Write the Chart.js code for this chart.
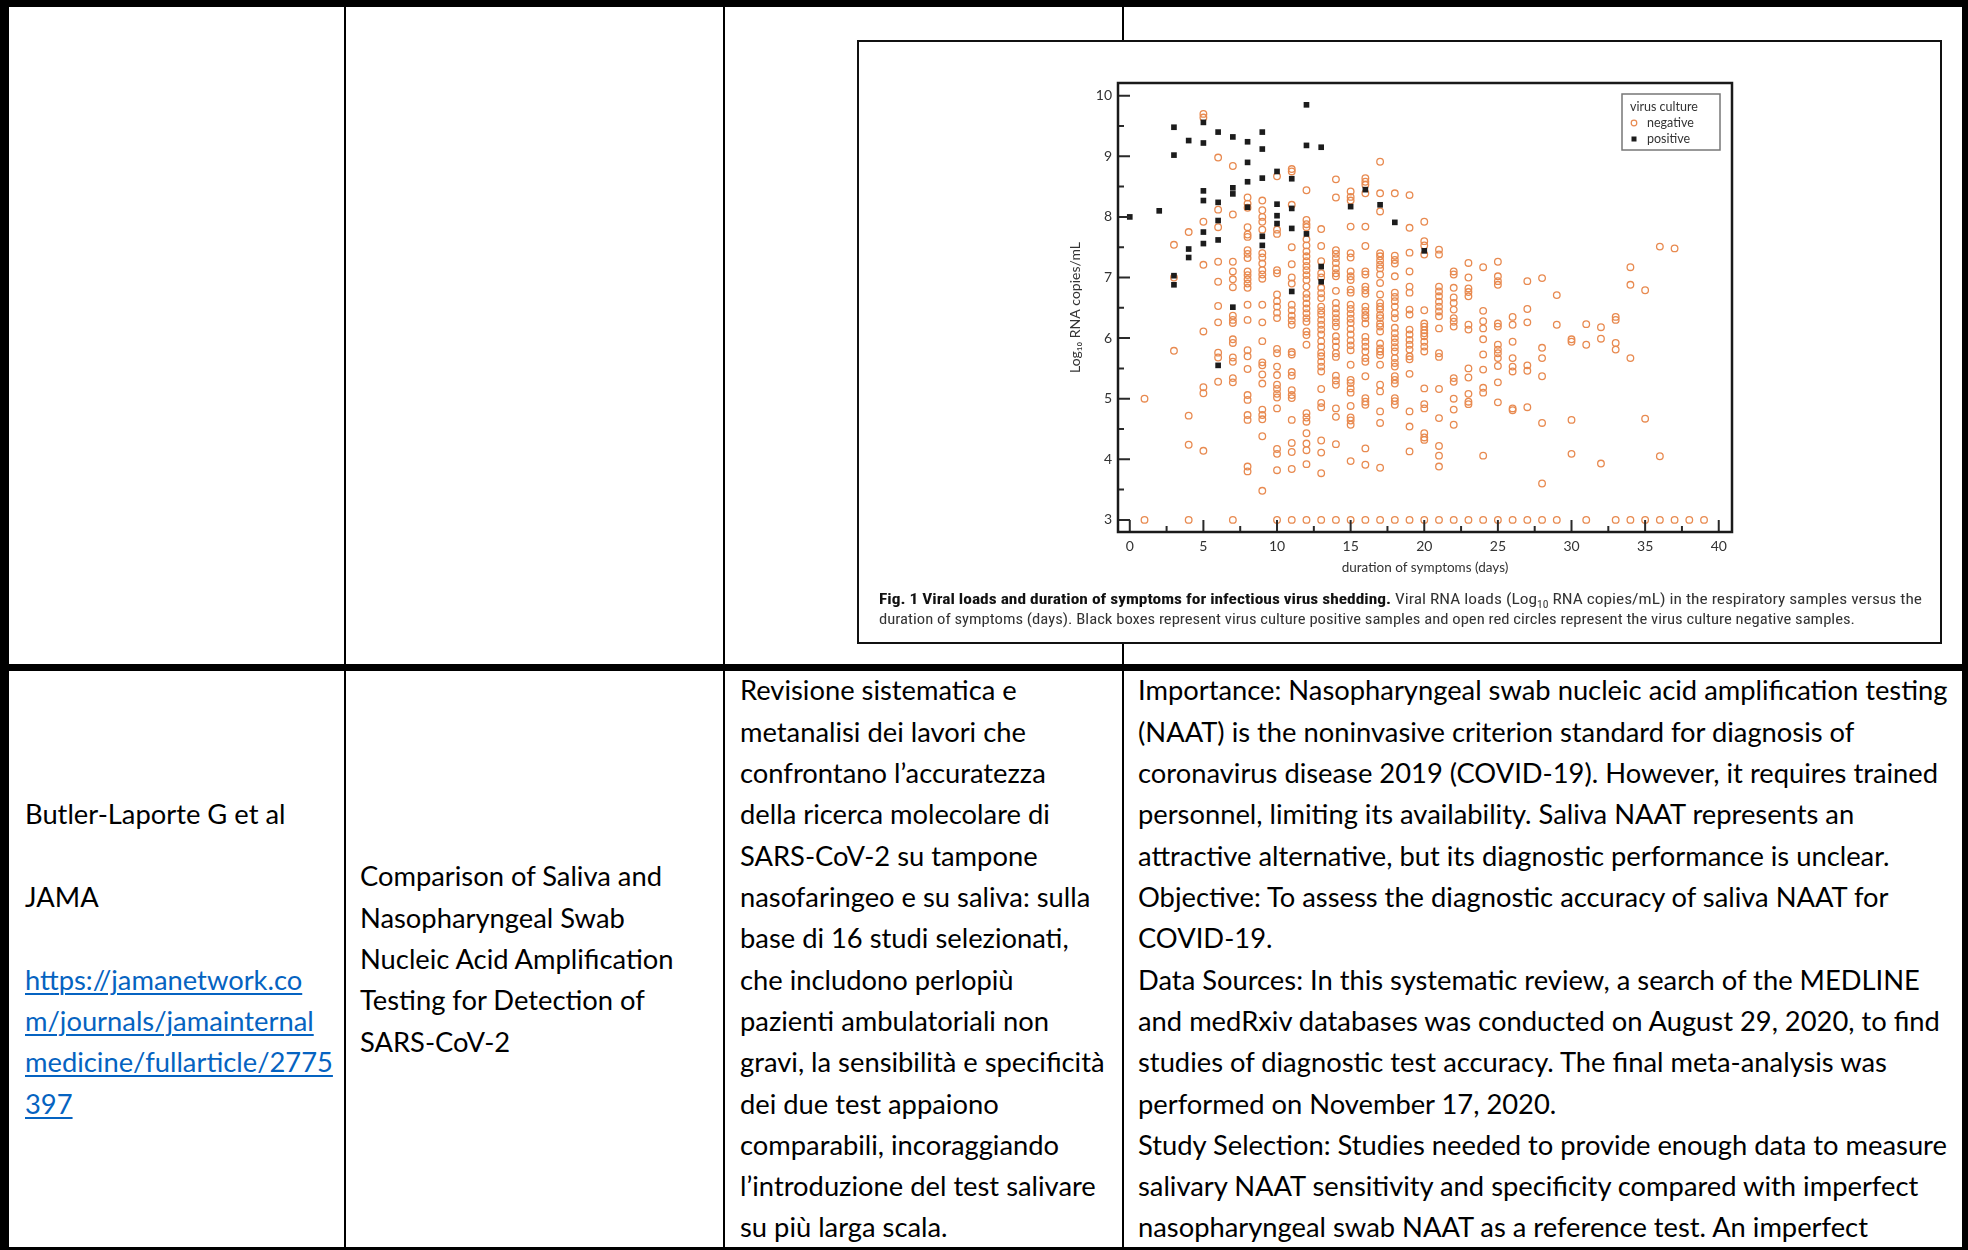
<!DOCTYPE html>
<html><head><meta charset="utf-8">
<script src="https://cdn.jsdelivr.net/npm/chart.js@4.4.1/dist/chart.umd.min.js"></script>
<style>
html,body{margin:0;padding:0;background:#fff;}
#page{position:relative;width:1968px;height:1250px;overflow:hidden;background:#fff;font-family:Lato,"Open Sans",sans-serif;}
.b{position:absolute;background:#000;}
.ln{position:absolute;white-space:nowrap;color:#000;height:42px;line-height:42px;}
.lk{color:#0563C1;text-decoration:underline;text-decoration-thickness:2px;text-underline-offset:3px;}
#fig{position:absolute;left:857px;top:40px;width:1085px;height:604px;box-sizing:border-box;border:2.5px solid #111;background:#fff;}
#chartCanvas{position:absolute;left:1040px;top:60px;}
.cap{position:absolute;left:879px;white-space:nowrap;font-family:"Liberation Sans Narrow","Roboto Condensed",Roboto,sans-serif;font-size:15px;color:#333;transform-origin:0 50%;line-height:20px;}
.cap b{color:#111;}
</style></head>
<body><div id="page">
<div id="fig"></div>
<canvas id="chartCanvas" width="720" height="530"></canvas>
<div class="cap" id="cap1" style="top:589px"><b>Fig. 1 Viral loads and duration of symptoms for infectious virus shedding.</b> Viral RNA loads (Log<sub style="font-size:10px">10</sub> RNA copies/mL) in the respiratory samples versus the</div>
<div class="cap" id="cap2" style="top:609px">duration of symptoms (days). Black boxes represent virus culture positive samples and open red circles represent the virus culture negative samples.</div>
</div>
<script>
// ---------- DATA ----------
const xTickValues = [0, 5, 10, 15, 20, 25, 30, 35, 40];
const yTickValues = [3, 4, 5, 6, 7, 8, 9, 10];
const xMinorTicks = [2.5, 7.5, 12.5, 17.5, 22.5, 27.5, 32.5, 37.5];
const yMinorTicks = [3.5, 4.5, 5.5, 6.5, 7.5, 8.5, 9.5];
const xTitle = 'duration of symptoms (days)';
const yTitle = 'Log\u2081\u2080 RNA copies/mL';
const legendTitle = 'virus culture';
const seriesNames = ['negative', 'positive'];

// virus culture positive samples: [day, log10 load]
const positiveSamples = [
 [0,8.0],[2,8.1],[3,9.48],[3,9.02],[3,7.03],[3,6.88],[4,9.26],[4,7.47],[4,7.33],
 [5,9.56],[5,9.22],[5,8.43],[5,8.27],[5,7.75],[5,7.56],[6,9.40],[6,8.24],[6,7.94],[6,7.62],[6,5.55],
 [7,9.32],[7,8.48],[7,8.38],[7,6.51],[8,9.24],[8,8.9],[8,8.58],[8,8.16],
 [9,9.40],[9,9.12],[9,8.64],[9,7.68],[9,7.53],[10,8.75],[10,8.21],[10,8.02],[10,7.89],
 [11,8.63],[11,8.14],[11,7.81],[11,6.77],[12,9.85],[12,9.18],[12,7.72],[13,9.15],[13,7.18],[13,6.93],
 [15,8.17],[16,8.45],[17,8.2],[18,7.91],[20,7.44]
];

// virus culture negative samples, per day: [day, [log10 loads]]
const negativeColumns = [
 [1,[5.0,3.0]],
 [3,[7.54,7.0,5.79]],
 [4,[7.75,4.72,4.24,3.0]],
 [5,[9.70,9.64,7.92,7.21,6.11,5.19,5.09,4.14]],
 [6,[8.98,8.12,7.83,7.26,6.93,6.53,6.26,5.76,5.68,5.28]],
 [7,[8.84,8.04,7.26,7.1,6.97,6.84,6.37,6.3,6.25,5.98,5.92,5.68,5.61,5.34,5.27,3.0]],
 [8,[8.32,8.22,8.15,7.83,7.71,7.67,7.45,7.39,7.32,7.1,7.04,6.97,6.9,6.83,6.55,6.3,5.8,5.7,5.49,5.06,4.98,4.73,4.65,3.88,3.8]],
 [9,[8.27,8.11,8.0,7.92,7.79,7.40,7.33,7.23,7.12,7.05,6.98,6.55,6.26,5.95,5.6,5.55,5.4,5.25,4.82,4.73,4.66,4.38,3.48]],
 [10,[8.67,7.79,7.72,7.12,7.07,6.72,6.61,6.52,6.42,6.33,5.82,5.75,5.53,5.39,5.23,5.16,5.08,5.02,4.84,4.17,4.09,3.82,3.0]],
 [11,[8.79,8.75,8.2,7.5,7.22,7.0,6.9,6.55,6.46,6.37,6.29,6.22,5.77,5.73,5.44,5.38,5.14,5.06,5.01,4.65,4.27,4.12,3.84,3.0]],
 [12,[8.44,7.95,7.88,7.83,7.63,7.53,7.43,7.35,7.27,7.19,7.12,7.04,6.96,6.85,6.73,6.66,6.57,6.49,6.41,6.33,6.27,6.11,6.05,5.89,4.76,4.69,4.62,4.43,4.26,4.15,3.92,3.0]],
 [13,[7.8,7.52,7.27,7.07,7.0,6.83,6.74,6.66,6.52,6.45,6.39,6.3,6.22,6.14,6.06,5.95,5.86,5.76,5.7,5.61,5.53,5.45,5.16,4.93,4.86,4.31,4.11,3.77,3.0]],
 [14,[8.62,8.32,7.45,7.39,7.32,7.24,7.15,7.07,7.02,6.78,6.58,6.49,6.41,6.33,6.26,6.19,6.03,5.95,5.86,5.75,5.69,5.38,5.3,5.23,4.84,4.7,4.25,3.0]],
 [15,[8.42,8.33,8.27,7.84,7.40,7.33,7.1,7.02,6.96,6.8,6.75,6.55,6.48,6.4,6.32,6.25,6.15,6.06,5.96,5.88,5.80,5.56,5.31,5.26,5.17,5.1,4.88,4.69,4.64,4.57,3.97,3.0]],
 [16,[8.64,8.58,8.53,8.39,7.84,7.52,7.1,7.05,6.85,6.79,6.73,6.52,6.45,6.38,6.33,6.24,6.02,5.94,5.86,5.78,5.67,5.61,5.37,5.01,4.95,4.9,4.18,3.91,3.0]],
 [17,[8.91,8.39,8.09,7.4,7.35,7.28,7.21,7.15,7.05,6.91,6.72,6.58,6.52,6.47,6.38,6.33,6.24,6.19,6.11,5.91,5.83,5.78,5.72,5.56,5.23,5.12,4.79,4.6,3.86,3.0]],
 [18,[8.39,7.36,7.29,7.23,7.02,6.75,6.68,6.61,6.52,6.41,6.33,6.17,6.08,6.0,5.93,5.85,5.78,5.67,5.59,5.53,5.37,5.31,5.25,5.01,4.96,4.9,3.0]],
 [19,[8.36,7.82,7.41,7.1,6.85,6.75,6.47,6.39,6.14,6.06,5.97,5.89,5.81,5.7,5.65,5.41,4.79,4.54,4.13,3.0]],
 [20,[7.92,7.6,7.53,7.38,6.46,6.24,6.19,6.13,6.08,6.03,5.94,5.86,5.78,5.17,4.91,4.84,4.43,4.36,4.32,3.0]],
 [21,[7.46,7.38,6.85,6.77,6.69,6.6,6.52,6.44,6.36,6.16,5.75,5.69,5.16,4.68,4.22,4.06,3.88,3.0]],
 [22,[7.10,7.05,6.83,6.67,6.58,6.47,6.33,6.27,6.19,5.34,5.28,5.0,4.82,4.57,3.0]],
 [23,[7.24,7.0,6.82,6.76,6.69,6.22,6.14,5.5,5.35,5.08,4.95,4.91,3.0]],
 [24,[7.17,6.45,6.28,6.16,5.98,5.73,5.48,5.18,5.1,4.06,3.0]],
 [25,[7.26,7.02,6.94,6.88,6.24,6.19,5.89,5.81,5.75,5.67,5.54,5.27,4.94,3.0]],
 [26,[6.35,6.22,5.94,5.67,5.53,5.45,4.84,4.81,3.0]],
 [27,[6.94,6.48,6.26,5.55,5.46,4.86,3.0]],
 [28,[6.99,5.84,5.67,5.37,4.60,3.6,3.0]],
 [29,[6.71,6.22,3.0]],
 [30,[5.98,5.94,4.65,4.09]],
 [31,[6.23,5.89,3.0]],
 [32,[6.18,5.99,3.93]],
 [33,[6.35,6.30,5.92,5.81,3.0]],
 [34,[7.17,6.88,5.67,3.0]],
 [35,[6.79,4.67,3.0]],
 [36,[7.51,4.05,3.0]],
 [37,[7.48,3.0]],
 [38,[3.0]],
 [39,[3.0]]
];

// ---------- TABLE TEXT ----------
const col1Lines = [[3,'Butler-Laporte G et al'],[5,'JAMA'],[7,'https://jamanetwork.co',1],[8,'m/journals/jamainternal',1],[9,'medicine/fullarticle/2775',1],[10,'397',1]];
const col2Lines = ['Comparison of Saliva and','Nasopharyngeal Swab','Nucleic Acid Amplification','Testing for Detection of','SARS-CoV-2'];
const col3Lines = ['Revisione sistematica e','metanalisi dei lavori che','confrontano l\u2019accuratezza','della ricerca molecolare di','SARS-CoV-2 su tampone','nasofaringeo e su saliva: sulla','base di 16 studi selezionati,','che includono perlopi\u00f9','pazienti ambulatoriali non','gravi, la sensibilit\u00e0 e specificit\u00e0','dei due test appaiono','comparabili, incoraggiando','l\u2019introduzione del test salivare','su pi\u00f9 larga scala.'];
const col4Lines = ['Importance: Nasopharyngeal swab nucleic acid amplification testing','(NAAT) is the noninvasive criterion standard for diagnosis of','coronavirus disease 2019 (COVID-19). However, it requires trained','personnel, limiting its availability. Saliva NAAT represents an','attractive alternative, but its diagnostic performance is unclear.','Objective: To assess the diagnostic accuracy of saliva NAAT for','COVID-19.','Data Sources: In this systematic review, a search of the MEDLINE','and medRxiv databases was conducted on August 29, 2020, to find','studies of diagnostic test accuracy. The final meta-analysis was','performed on November 17, 2020.','Study Selection: Studies needed to provide enough data to measure','salivary NAAT sensitivity and specificity compared with imperfect','nasopharyngeal swab NAAT as a reference test. An imperfect'];

const page = document.getElementById('page');
function box(l,t,w,h){const d=document.createElement('div');d.className='b';d.style.left=l+'px';d.style.top=t+'px';d.style.width=w+'px';d.style.height=h+'px';page.insertBefore(d,page.firstChild);}
// table borders
box(0,0,1968,7);      // top
box(0,664,1968,7);    // middle
box(0,0,9,1250);      // left
box(1962,0,6,1250);   // right
box(0,1247,1968,3);   // bottom
box(344,0,2,1250); box(723,0,2,1250); box(1122,0,2,1250);

// font size fitting the widest line
const probe=document.createElement('span');probe.style.cssText='position:absolute;visibility:hidden;white-space:nowrap;font:24px Lato';probe.textContent=col4Lines[0];document.body.appendChild(probe);
const fs = 24*810/probe.getBoundingClientRect().width; probe.remove();
const lineStep = 41.32, firstCenter = 690.3;
function addLine(x, idx, text, link){const d=document.createElement('div');d.className='ln';d.style.left=x+'px';d.style.top=(firstCenter+idx*lineStep-21)+'px';d.style.fontSize=fs+'px';
 if(link){const s=document.createElement('span');s.className='lk';s.textContent=text;d.appendChild(s);} else d.textContent=text; page.appendChild(d);}
col1Lines.forEach(l=>addLine(25,l[0],l[1],l[2]));
col2Lines.forEach((t,i)=>addLine(360,4.5+i,t));
col3Lines.forEach((t,i)=>addLine(740,i,t));
col4Lines.forEach((t,i)=>addLine(1138,i,t));

// caption fit
[['cap1',1043],['cap2',976]].forEach(([id,w])=>{const e=document.getElementById(id);const r=e.getBoundingClientRect().width;e.style.transform='scaleX('+(w/r)+')';});

// ---------- CHART ----------
const negPoints = [];
negativeColumns.forEach(([d,loads])=>loads.forEach(v=>negPoints.push({x:d,y:v})));
const posPoints = positiveSamples.map(([d,v])=>({x:d,y:v}));
const NEG_COLOR = '#e88a50', POS_COLOR = '#1c1c1c', INK = '#333';

const axisDecor = {
 id:'axisDecor',
 afterDraw(chart){
  const c=chart.ctx, a=chart.chartArea, xs=chart.scales.x, ys=chart.scales.y;
  c.save(); c.strokeStyle='#2a2a2a'; c.lineWidth=2;
  c.beginPath();
  yTickValues.forEach(v=>{const p=ys.getPixelForValue(v);c.moveTo(a.left,p);c.lineTo(a.left+12,p);});
  yMinorTicks.forEach(v=>{const p=ys.getPixelForValue(v);c.moveTo(a.left,p);c.lineTo(a.left+6,p);});
  xTickValues.forEach(v=>{const p=xs.getPixelForValue(v);c.moveTo(p,a.bottom);c.lineTo(p,a.bottom-12);});
  xMinorTicks.forEach(v=>{const p=xs.getPixelForValue(v);c.moveTo(p,a.bottom);c.lineTo(p,a.bottom-6);});
  c.stroke();
  c.lineWidth=2.5; c.strokeStyle='#1a1a1a'; c.strokeRect(a.left,a.top,a.right-a.left,a.bottom-a.top);
  // legend
  const bx=a.right-110, by=a.top+11, bw=98, bh=56;
  c.fillStyle='#fff'; c.fillRect(bx,by,bw,bh);
  c.lineWidth=1.5; c.strokeStyle='#777'; c.strokeRect(bx,by,bw,bh);
  c.font='12.5px Lato'; c.fillStyle=INK; c.textBaseline='middle'; c.textAlign='left';
  c.fillText(legendTitle,bx+8,by+13);
  seriesNames.forEach((name,i)=>{
   const ds=chart.data.datasets.find(d=>d.label===name); const yy=by+29+i*16, xx=bx+12;
   if(ds.pointStyle==='rect'){c.fillStyle=ds.pointBackgroundColor;c.fillRect(xx-2.5,yy-2.5,5,5);}
   else{c.beginPath();c.arc(xx,yy,2.8,0,Math.PI*2);c.lineWidth=1.2;c.strokeStyle=ds.pointBorderColor;c.stroke();}
   c.fillStyle=INK; c.fillText(name,bx+25,yy);
  });
  c.restore();
 }
};

new Chart(document.getElementById('chartCanvas'),{
 type:'scatter',
 data:{datasets:[
  {label:seriesNames[0],data:negPoints,pointStyle:'circle',pointRadius:3.3,pointBorderWidth:1.3,pointBorderColor:NEG_COLOR,pointBackgroundColor:'rgba(255,255,255,0)',order:1},
  {label:seriesNames[1],data:posPoints,pointStyle:'rect',pointRadius:4,pointBorderWidth:0,pointBorderColor:POS_COLOR,pointBackgroundColor:POS_COLOR,order:0}
 ]},
 options:{
  responsive:false,animation:false,devicePixelRatio:1,
  layout:{padding:{left:0,top:23,right:28,bottom:0}},
  plugins:{legend:{display:false},tooltip:{enabled:false}},
  scales:{
   x:{type:'linear',min:-0.8,max:40.9,
      afterBuildTicks:s=>{s.ticks=xTickValues.map(v=>({value:v}));},
      afterFit:s=>{s.height=58;},
      grid:{display:false,drawTicks:false},border:{display:false},
      ticks:{padding:6,color:INK,font:{family:'Lato',size:14},maxRotation:0,autoSkip:false},
      title:{display:true,text:xTitle,color:INK,font:{family:'Lato',size:13.5},padding:{top:0,bottom:14}}},
   y:{type:'linear',min:2.8,max:10.21,
      afterBuildTicks:s=>{s.ticks=yTickValues.map(v=>({value:v}));},
      afterFit:s=>{s.width=78;},
      grid:{display:false,drawTicks:false},border:{display:false},
      ticks:{padding:6,color:INK,font:{family:'Lato',size:14},autoSkip:false},
      title:{display:true,text:yTitle,color:INK,font:{family:'Lato',size:14},padding:{top:27,bottom:0}}}
  }
 },
 plugins:[axisDecor]
});
</script>
</body></html>
